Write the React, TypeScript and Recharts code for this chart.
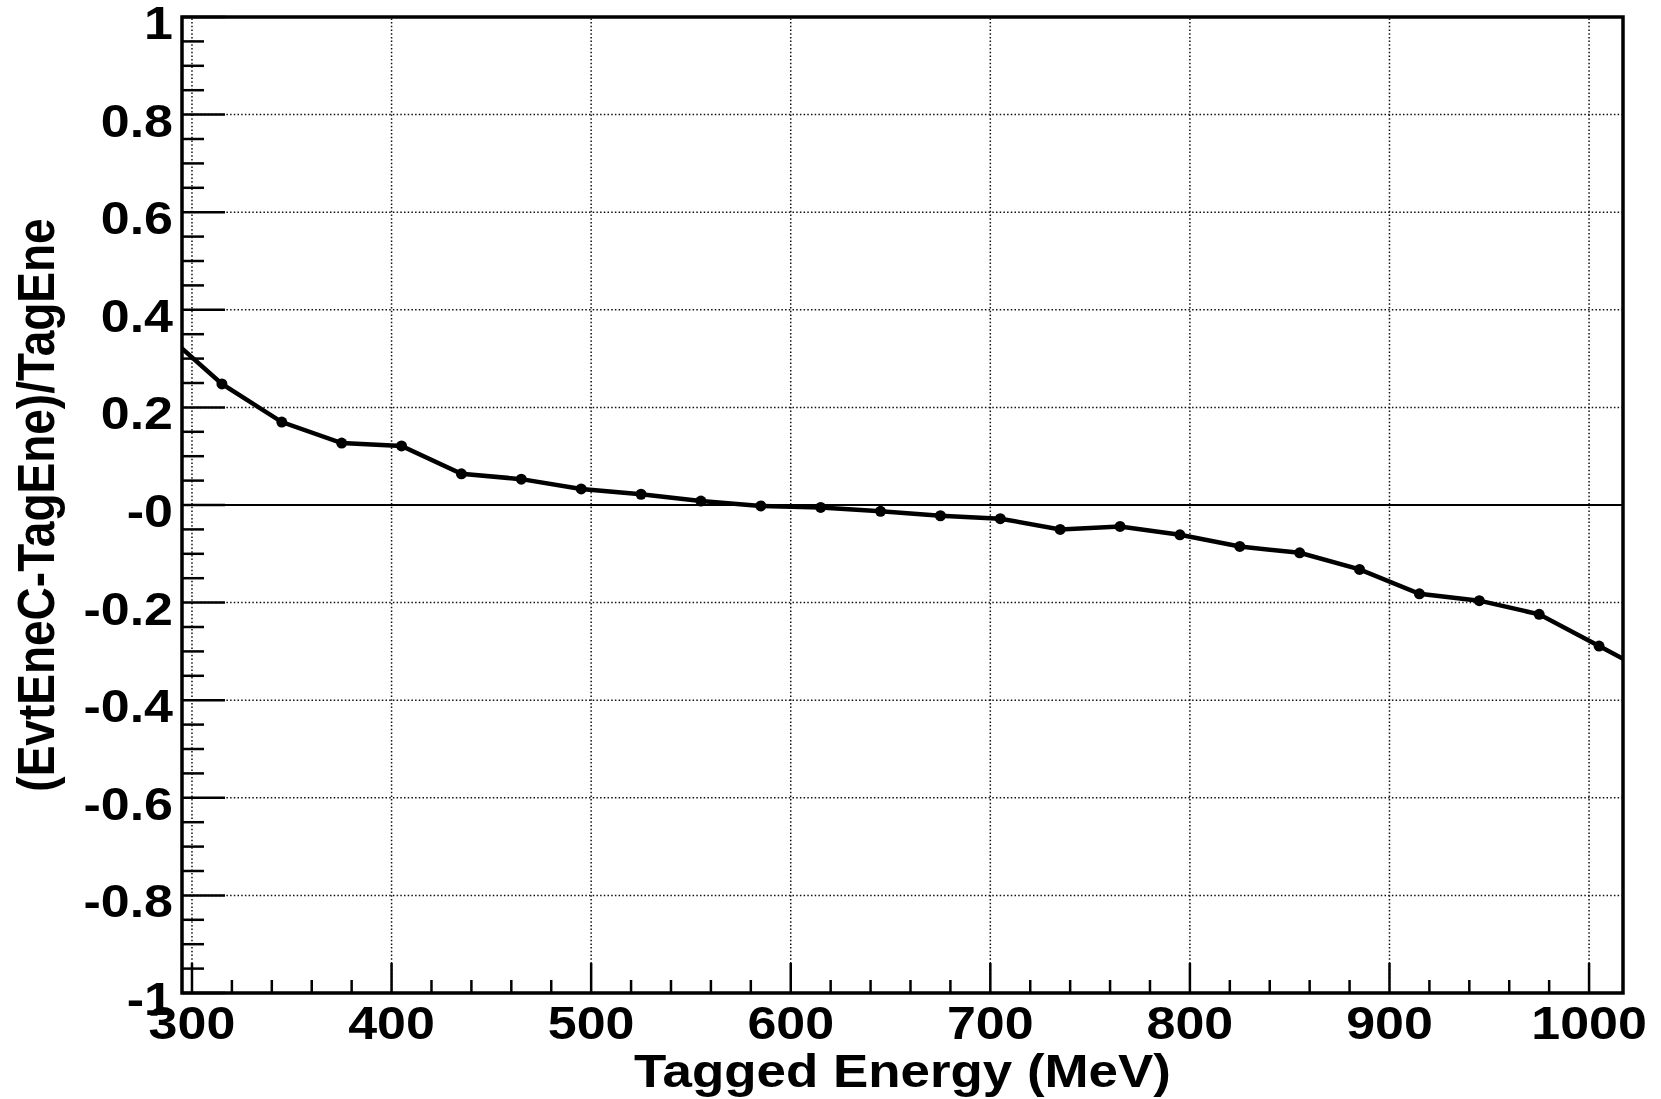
import React from 'react';
import {
  LineChart,
  Line,
  XAxis,
  YAxis,
  ReferenceLine,
  ReferenceArea,
  Label,
} from 'recharts';

// tagged energy bin centres (MeV); the first and last lie just outside the frame
const energies = [
  285, 315, 345, 375, 405, 435, 465, 495, 525, 555, 585, 615, 645,
  675, 705, 735, 765, 795, 825, 855, 885, 915, 945, 975, 1005, 1035,
];
const relDiff = [
  0.357, 0.248, 0.17, 0.127, 0.121, 0.064, 0.053, 0.033, 0.022, 0.008, -0.002, -0.005, -0.013,
  -0.022, -0.028, -0.05, -0.044, -0.061, -0.085, -0.098, -0.132, -0.182, -0.196, -0.224, -0.289, -0.354,
];

const xMajor = [300, 400, 500, 600, 700, 800, 900, 1000];
const xMinor = [
  320, 340, 360, 380, 420, 440, 460, 480, 520, 540, 560, 580, 620, 640, 660, 680,
  720, 740, 760, 780, 820, 840, 860, 880, 920, 940, 960, 980,
];
const yMajor = [-1, -0.8, -0.6, -0.4, -0.2, 0, 0.2, 0.4, 0.6, 0.8, 1];
const yMajorLabels = ['-1', '-0.8', '-0.6', '-0.4', '-0.2', '-0', '0.2', '0.4', '0.6', '0.8', '1'];
const yMinor = [
  -0.95, -0.9, -0.85, -0.75, -0.7, -0.65, -0.55, -0.5, -0.45, -0.35, -0.3, -0.25,
  -0.15, -0.1, -0.05, 0.05, 0.1, 0.15, 0.25, 0.3, 0.35, 0.45, 0.5, 0.55,
  0.65, 0.7, 0.75, 0.85, 0.9, 0.95,
];

const X_DOMAIN: [number, number] = [295, 1017];
const data = energies.map((e, i) => ({ x: e, y: relDiff[i] }));

const font = {
  fontFamily: '"Liberation Sans", Arial, Helvetica, sans-serif',
  fontWeight: 700,
  fontSize: 46,
  fill: '#000',
};
const STRETCH = 1.13;

function XTick(props: any) {
  const { x, y, payload } = props;
  const major = xMajor.includes(payload.value);
  return (
    <g>
      <line x1={x} x2={x} y1={y} y2={y - (major ? 30 : 13)} stroke="#000" strokeWidth={2.5} />
      {major && (
        <text {...font} textAnchor="middle" transform={`translate(${x},${y + 46}) scale(${STRETCH},1)`}>
          {payload.value}
        </text>
      )}
    </g>
  );
}

function YTick(props: any) {
  const { x, y, payload } = props;
  const idx = yMajor.indexOf(payload.value);
  const major = idx >= 0;
  return (
    <g>
      <line x1={x} x2={x + (major ? 43 : 22)} y1={y} y2={y} stroke="#000" strokeWidth={2.5} />
      {major && (
        <text {...font} textAnchor="end" transform={`translate(${x - 9},${y + 22}) scale(${STRETCH},1)`}>
          {yMajorLabels[idx]}
        </text>
      )}
    </g>
  );
}

function Dot(props: any) {
  const { cx, cy, payload, index } = props;
  if (payload.x < X_DOMAIN[0] || payload.x > X_DOMAIN[1]) return <g key={`d${index}`} />;
  return <circle key={`d${index}`} cx={cx} cy={cy} r={5.5} fill="#000" />;
}

export default function App() {
  const grid = { stroke: '#111', strokeWidth: 1.5, strokeDasharray: '1.5 2.2' };
  return (
    <div style={{ position: 'absolute', left: 0, top: 0, background: '#fff' }}>
      <LineChart width={1661} height={1099} data={data} margin={{ top: 17, right: 38, bottom: 0, left: 82 }}>
        {xMajor.map((v) => (
          <ReferenceLine key={`gx${v}`} x={v} {...grid} />
        ))}
        {yMajor.slice(1, -1).map((v) => (
          <ReferenceLine key={`gy${v}`} y={v} {...grid} />
        ))}
        <ReferenceLine y={0} stroke="#000" strokeWidth={1.8} />
        <XAxis
          type="number"
          dataKey="x"
          domain={X_DOMAIN}
          allowDataOverflow
          ticks={[...xMajor, ...xMinor]}
          interval={0}
          tick={<XTick />}
          tickLine={false}
          tickSize={0}
          tickMargin={0}
          axisLine={false}
          height={106}
        >
          <Label
            content={({ viewBox }: any) => (
              <text
                {...font}
                textAnchor="middle"
                transform={`translate(${viewBox.x + viewBox.width / 2},${viewBox.y + 94}) scale(1.15,1)`}
              >
                Tagged Energy (MeV)
              </text>
            )}
          />
        </XAxis>
        <YAxis
          type="number"
          domain={[-1, 1]}
          allowDataOverflow
          ticks={[...yMajor, ...yMinor]}
          interval={0}
          tick={<YTick />}
          tickLine={false}
          tickSize={0}
          tickMargin={0}
          axisLine={false}
          width={100}
        >
          <Label
            content={({ viewBox }: any) => (
              <text
                {...font}
                textAnchor="middle"
                transform={`translate(${viewBox.x - 28},${viewBox.y + viewBox.height / 2}) scale(${STRETCH},1) rotate(-90)`}
              >
                (EvtEneC-TagEne)/TagEne
              </text>
            )}
          />
        </YAxis>
        <Line
          type="linear"
          dataKey="y"
          stroke="#000"
          strokeWidth={4.5}
          dot={Dot}
          activeDot={false}
          isAnimationActive={false}
        />
        <ReferenceArea x1={X_DOMAIN[0]} x2={X_DOMAIN[1]} y1={-1} y2={1} fill="none" stroke="#000" strokeWidth={3.5} ifOverflow="visible" />
      </LineChart>
    </div>
  );
}
